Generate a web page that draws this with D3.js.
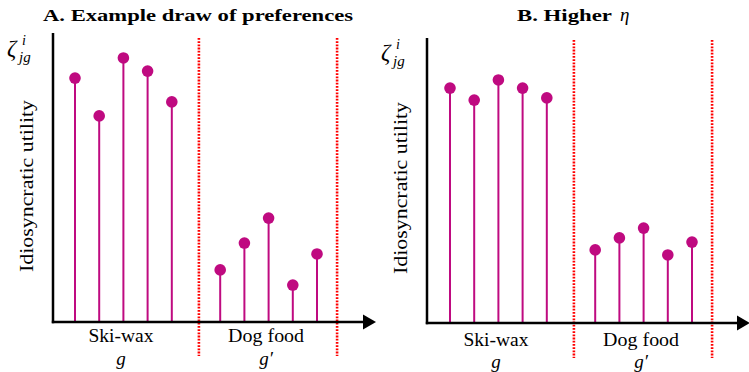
<!DOCTYPE html>
<html>
<head>
<meta charset="utf-8">
<script src="https://cdn.jsdelivr.net/npm/d3@7"></script>
<style>
  html, body { margin: 0; padding: 0; background: #fff; }
  svg { display: block; }
</style>
</head>
<body>
<svg id="chart" width="749" height="372"></svg>
<script>
// Product groups and their horizontal slots (products 1-5 and 7-11)
const groups = ["Ski-wax", "Dog food"];
const groupSymbols = ["g", "g\u2032"];
const skiWaxSlots = [1, 2, 3, 4, 5];
const dogFoodSlots = [7, 8, 9, 10, 11];
const groupBounds = [6.12, 11.83];

// Idiosyncratic utility draws, panel A
const skiWaxA = [8.71, 7.36, 9.43, 8.96, 7.86];
const dogFoodA = [1.86, 2.82, 3.71, 1.32, 2.43];
// Idiosyncratic utility draws, panel B (higher eta)
const skiWaxB = [8.39, 7.96, 8.68, 8.39, 8.04];
const dogFoodB = [2.61, 3.04, 3.39, 2.43, 2.89];

const titles = ["A. Example draw of preferences", "B. Higher"];
const yLabel = "Idiosyncratic utility";

const MAGENTA = "#bf0a80";
const SERIF = "Liberation Serif";
const svg = d3.select("#chart");

const panels = [
  { ox: 0, dy: 0, ski: skiWaxA, dog: dogFoodA, title: titles[0], eta: false },
  { ox: 374, dy: 1, ski: skiWaxB, dog: dogFoodB, title: titles[1], eta: true }
];

panels.forEach((p, pi) => {
  const g = svg.append("g").attr("transform", `translate(${p.ox},0)`);
  const axisY = 322 + p.dy;
  const axisTop = 33 + p.dy * 5;
  const x0 = 53;

  const x = d3.scaleLinear().domain([1, 11]).range([75 + pi, 317 + pi]);
  const y = d3.scaleLinear().domain([0, 10]).range([axisY, axisY - 280]);

  // Title
  if (!p.eta) {
    g.append("text")
      .attr("x", 43).attr("y", 21)
      .attr("textLength", 310).attr("lengthAdjust", "spacingAndGlyphs")
      .attr("font-family", SERIF).attr("font-weight", "bold").attr("font-size", 17)
      .text(p.title);
  } else {
    g.append("text")
      .attr("x", 143).attr("y", 21)
      .attr("textLength", 95).attr("lengthAdjust", "spacingAndGlyphs")
      .attr("font-family", SERIF).attr("font-weight", "bold").attr("font-size", 17)
      .text(p.title);
    g.append("text")
      .attr("x", 246).attr("y", 21)
      .attr("font-family", SERIF).attr("font-style", "italic").attr("font-size", 19)
      .text("\u03b7");
  }

  // Group boundaries
  groupBounds.forEach(b => {
    g.append("line")
      .attr("x1", x(b)).attr("x2", x(b))
      .attr("y1", 38 + p.dy * 2).attr("y2", 356 + p.dy * 2)
      .attr("stroke", "#ff0000").attr("stroke-width", 2.6)
      .attr("stroke-dasharray", "1.8,1.4");
  });

  // Stems and dots
  const pts = skiWaxSlots.map((s, i) => ({ s, v: p.ski[i] }))
    .concat(dogFoodSlots.map((s, i) => ({ s, v: p.dog[i] })));

  g.selectAll(".stem").data(pts).enter().append("line")
    .attr("class", "stem")
    .attr("x1", d => x(d.s)).attr("x2", d => x(d.s))
    .attr("y1", y(0)).attr("y2", d => y(d.v))
    .attr("stroke", MAGENTA).attr("stroke-width", 2);

  g.selectAll(".dot").data(pts).enter().append("circle")
    .attr("class", "dot")
    .attr("cx", d => x(d.s)).attr("cy", d => y(d.v))
    .attr("r", 5.8).attr("fill", MAGENTA);

  // Axes
  g.append("line")
    .attr("x1", x0).attr("x2", x0)
    .attr("y1", axisTop).attr("y2", axisY + 1.2)
    .attr("stroke", "#000").attr("stroke-width", 2.5);
  g.append("line")
    .attr("x1", x0 - 1.2).attr("x2", 364)
    .attr("y1", axisY).attr("y2", axisY)
    .attr("stroke", "#000").attr("stroke-width", 2.5);
  g.append("path")
    .attr("d", `M363,${axisY - 7.5} L376,${axisY} L363,${axisY + 7.5} Z`)
    .attr("fill", "#000");

  // Group labels
  const centers = [d3.mean(skiWaxSlots), d3.mean(dogFoodSlots)];
  const widths = [65, 76];
  groups.forEach((name, i) => {
    g.append("text")
      .attr("x", x(centers[i]) - 2.5 - widths[i] / 2).attr("y", 342 + p.dy * 4)
      .attr("textLength", widths[i]).attr("lengthAdjust", "spacingAndGlyphs")
      .attr("font-family", SERIF).attr("font-size", 19)
      .text(name);
    g.append("text")
      .attr("x", x(centers[i]) - 2.5).attr("y", 365 + p.dy * 3)
      .attr("text-anchor", "middle")
      .attr("font-family", SERIF).attr("font-style", "italic").attr("font-size", 19)
      .text(groupSymbols[i]);
  });

  // Y axis label
  g.append("text")
    .attr("transform", `translate(33,${272 + p.dy * 2}) rotate(-90)`)
    .attr("textLength", 172).attr("lengthAdjust", "spacingAndGlyphs")
    .attr("font-family", SERIF).attr("font-size", 19)
    .text(yLabel);

  // Utility symbol zeta^i_{jg}
  const z = g.append("g").attr("transform", `translate(0,${p.dy * 4})`);
  z.append("text").attr("x", 7).attr("y", 56)
    .attr("font-family", SERIF).attr("font-style", "italic").attr("font-size", 23)
    .text("\u03b6");
  z.append("text").attr("x", 22).attr("y", 45)
    .attr("font-family", SERIF).attr("font-style", "italic").attr("font-size", 14)
    .text("i");
  z.append("text").attr("x", 19).attr("y", 62)
    .attr("font-family", SERIF).attr("font-style", "italic").attr("font-size", 15)
    .text("jg");
});
</script>
</body>
</html>
